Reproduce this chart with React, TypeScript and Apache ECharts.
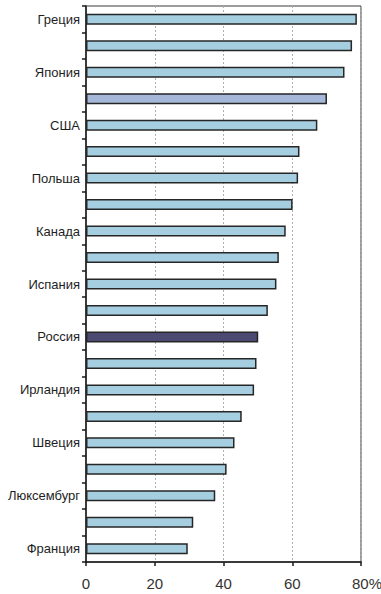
import React, { useEffect, useRef } from "react";
import * as echarts from "echarts";

// Country labels, top to bottom (every other row is left unlabeled)
const categories: string[] = [
  "Греция", "", "Япония", "", "США", "", "Польша", "", "Канада", "",
  "Испания", "", "Россия", "", "Ирландия", "", "Швеция", "", "Люксембург", "", "Франция",
];

// Share, %
const values: number[] = [
  78.8, 77.4, 75.2, 70.1, 67.3, 62.1, 61.7, 60.1, 58.1, 56.1,
  55.4, 52.9, 50.1, 49.6, 48.9, 45.3, 43.2, 40.9, 37.6, 31.2, 29.6,
];

const xTicks: number[] = [0, 20, 40, 60, 80];

const BASE_COLOR = "#a5cee0";
const ACCENT_COLORS: Record<number, string> = {
  3: "#a6b8d9",
  12: "#4c4a72",
};

export default function App() {
  const ref = useRef<HTMLDivElement>(null);

  useEffect(() => {
    document.body.style.margin = "0";
    if (!ref.current) return;
    const chart = echarts.init(ref.current, undefined, { renderer: "svg" });
    const xMax = xTicks[xTicks.length - 1];
    chart.setOption({
      animation: false,
      backgroundColor: "#ffffff",
      grid: {
        left: 86,
        right: 20,
        top: 6,
        bottom: 32,
        containLabel: false,
        outerBoundsMode: "none",
        show: true,
        borderColor: "#3a3a3a",
        borderWidth: 1,
        backgroundColor: "transparent",
      },
      xAxis: {
        type: "value",
        min: xTicks[0],
        max: xMax,
        interval: xTicks[1] - xTicks[0],
        axisLine: { show: true, lineStyle: { color: "#1a1a1a", width: 1.5 } },
        axisTick: { show: true, length: 4, lineStyle: { color: "#1a1a1a", width: 1.5 } },
        splitLine: {
          show: true,
          lineStyle: { color: "#b0b0b0", type: [2, 2], width: 1 },
        },
        axisLabel: {
          margin: 14,
          fontFamily: "Liberation Sans, Arial, sans-serif",
          fontSize: 15,
          color: "#333333",
          formatter: (v: number) => (v === xMax ? `{p|${v}%}` : `${v}`),
          rich: {
            p: {
              fontFamily: "Liberation Sans, Arial, sans-serif",
              fontSize: 15,
              color: "#333333",
              padding: [0, 0, 0, 12],
            },
          },
        },
      },
      yAxis: {
        type: "category",
        inverse: true,
        data: categories.map((_, i) => String(i)),
        axisLine: { show: true, lineStyle: { color: "#1a1a1a", width: 1.5 } },
        axisTick: {
          show: true,
          length: 4,
          alignWithLabel: false,
          lineStyle: { color: "#1a1a1a", width: 1.5 },
        },
        axisLabel: {
          interval: 0,
          margin: 6,
          fontFamily: "Liberation Sans, Arial, sans-serif",
          fontSize: 13,
          color: "#1e1e1e",
          formatter: (_v: string, i: number) => categories[i],
        },
        splitLine: { show: false },
      },
      series: [
        {
          type: "bar",
          barWidth: 11,
          data: values.map((v, i) => ({
            value: v,
            itemStyle: {
              color: ACCENT_COLORS[i] ?? BASE_COLOR,
              borderColor: "#262626",
              borderWidth: 1.5,
            },
          })),
        },
      ],
    });
    return () => chart.dispose();
  }, []);

  return <div ref={ref} style={{ width: 381, height: 594 }} />;
}
